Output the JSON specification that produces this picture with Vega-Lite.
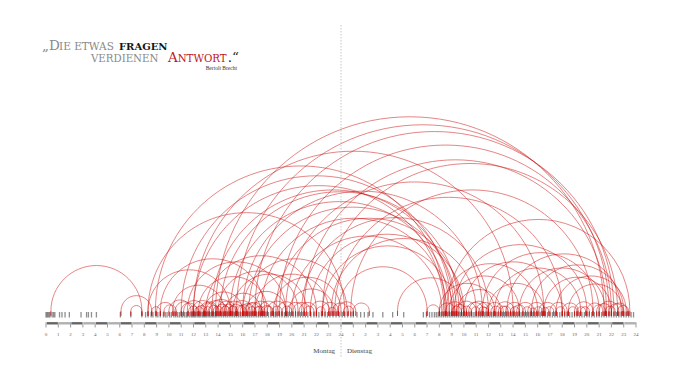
{
  "$schema": "https://vega.github.io/schema/vega-lite/v6.json",
  "width": 590,
  "height": 380,
  "autosize": {"type": "none"},
  "padding": {"left": 46, "right": 44, "top": 0, "bottom": 0},
  "background": "white",
  "config": {"view": {"stroke": null}},
  "datasets": {
    "arcs": [
      {"s": 0.4, "e": 7.8}, {"s": 6.1, "e": 8.6}, {"s": 6.9, "e": 7.8}, {"s": 8.6, "e": 9.3}, {"s": 9.0, "e": 10.4},
      {"s": 9.6, "e": 10.6}, {"s": 10.0, "e": 11.8}, {"s": 10.5, "e": 12.0}, {"s": 11.0, "e": 12.3}, {"s": 11.2, "e": 12.9},
      {"s": 11.6, "e": 12.4}, {"s": 11.9, "e": 13.6}, {"s": 12.2, "e": 13.1}, {"s": 12.5, "e": 14.0}, {"s": 12.8, "e": 13.5},
      {"s": 13.0, "e": 14.7}, {"s": 13.3, "e": 15.2}, {"s": 13.6, "e": 14.4}, {"s": 13.9, "e": 15.5}, {"s": 14.2, "e": 15.0},
      {"s": 14.5, "e": 16.1}, {"s": 14.8, "e": 15.6}, {"s": 15.1, "e": 16.8}, {"s": 15.4, "e": 16.3}, {"s": 15.8, "e": 17.0},
      {"s": 16.1, "e": 17.4}, {"s": 16.4, "e": 17.1}, {"s": 16.7, "e": 18.3}, {"s": 17.0, "e": 17.8}, {"s": 17.3, "e": 18.9},
      {"s": 17.7, "e": 18.5}, {"s": 18.0, "e": 19.6}, {"s": 18.4, "e": 19.2}, {"s": 18.8, "e": 20.3}, {"s": 19.2, "e": 20.0},
      {"s": 19.6, "e": 21.0}, {"s": 20.1, "e": 21.5}, {"s": 20.6, "e": 22.0}, {"s": 21.0, "e": 21.8}, {"s": 21.5, "e": 23.1},
      {"s": 22.0, "e": 22.7}, {"s": 22.4, "e": 23.8}, {"s": 23.0, "e": 23.6}, {"s": 23.3, "e": 24.6}, {"s": 23.7, "e": 25.2},
      {"s": 24.2, "e": 25.0}, {"s": 25.0, "e": 26.3},
      {"s": 12.1, "e": 12.8}, {"s": 12.6, "e": 13.9}, {"s": 13.2, "e": 14.1}, {"s": 13.8, "e": 14.9}, {"s": 14.3, "e": 15.4},
      {"s": 14.9, "e": 16.0}, {"s": 15.6, "e": 16.6}, {"s": 16.2, "e": 17.6}, {"s": 16.9, "e": 17.6}, {"s": 17.5, "e": 18.4},
      {"s": 12.9, "e": 16.0}, {"s": 14.6, "e": 17.5}, {"s": 16.3, "e": 19.5},
      {"s": 8.3, "e": 15.0}, {"s": 9.3, "e": 17.8}, {"s": 10.3, "e": 14.5}, {"s": 11.5, "e": 19.5}, {"s": 12.4, "e": 18.0},
      {"s": 13.0, "e": 22.0}, {"s": 14.0, "e": 20.5}, {"s": 15.2, "e": 21.2}, {"s": 16.0, "e": 24.5}, {"s": 17.0, "e": 23.0},
      {"s": 18.5, "e": 24.0}, {"s": 19.8, "e": 23.4}, {"s": 8.3, "e": 24.3},
      {"s": 8.9, "e": 32.5}, {"s": 11.0, "e": 33.0}, {"s": 12.0, "e": 32.4}, {"s": 13.5, "e": 33.2}, {"s": 14.2, "e": 33.6},
      {"s": 15.0, "e": 32.8}, {"s": 16.5, "e": 33.4}, {"s": 17.5, "e": 32.6}, {"s": 18.7, "e": 33.8}, {"s": 20.0, "e": 32.2},
      {"s": 21.5, "e": 34.0}, {"s": 22.5, "e": 33.1}, {"s": 23.2, "e": 35.0}, {"s": 20.8, "e": 36.0}, {"s": 16.0, "e": 35.5},
      {"s": 13.8, "e": 45.4}, {"s": 15.5, "e": 45.8}, {"s": 17.0, "e": 46.2}, {"s": 19.0, "e": 46.0}, {"s": 21.0, "e": 45.6},
      {"s": 22.5, "e": 46.5}, {"s": 12.0, "e": 38.0}, {"s": 19.5, "e": 40.5}, {"s": 23.5, "e": 42.0}, {"s": 24.8, "e": 44.5},
      {"s": 28.6, "e": 34.0}, {"s": 23.8, "e": 31.0},
      {"s": 31.0, "e": 32.0}, {"s": 32.0, "e": 33.3}, {"s": 32.5, "e": 34.0}, {"s": 33.0, "e": 33.8}, {"s": 33.4, "e": 35.0},
      {"s": 33.8, "e": 34.6}, {"s": 34.2, "e": 35.6}, {"s": 34.6, "e": 35.3}, {"s": 35.0, "e": 36.4}, {"s": 35.4, "e": 36.0},
      {"s": 35.8, "e": 37.2}, {"s": 36.2, "e": 37.0}, {"s": 36.6, "e": 38.1}, {"s": 37.0, "e": 37.8}, {"s": 37.4, "e": 38.8},
      {"s": 37.8, "e": 38.5}, {"s": 38.3, "e": 39.7}, {"s": 38.8, "e": 39.5}, {"s": 39.2, "e": 40.6}, {"s": 39.7, "e": 40.4},
      {"s": 40.1, "e": 41.5}, {"s": 40.6, "e": 41.3}, {"s": 41.0, "e": 42.4}, {"s": 41.5, "e": 42.2}, {"s": 42.0, "e": 43.3},
      {"s": 42.5, "e": 43.2}, {"s": 43.0, "e": 44.5}, {"s": 43.5, "e": 44.2}, {"s": 44.0, "e": 45.3}, {"s": 44.5, "e": 45.5},
      {"s": 45.0, "e": 46.6}, {"s": 45.5, "e": 46.3}, {"s": 46.0, "e": 47.3}, {"s": 46.5, "e": 47.4},
      {"s": 33.1, "e": 34.2}, {"s": 34.4, "e": 36.0}, {"s": 35.2, "e": 35.9}, {"s": 36.8, "e": 37.6}, {"s": 38.0, "e": 39.0},
      {"s": 39.4, "e": 39.9}, {"s": 40.3, "e": 40.9}, {"s": 43.2, "e": 43.9}, {"s": 44.8, "e": 46.0}, {"s": 45.8, "e": 47.0},
      {"s": 32.3, "e": 40.0}, {"s": 32.8, "e": 38.5}, {"s": 33.2, "e": 44.0}, {"s": 34.0, "e": 42.0}, {"s": 35.5, "e": 45.0},
      {"s": 36.5, "e": 43.5}, {"s": 37.5, "e": 46.8}, {"s": 38.5, "e": 45.5}, {"s": 39.5, "e": 47.0}, {"s": 40.5, "e": 46.0},
      {"s": 41.5, "e": 47.2}, {"s": 33.5, "e": 37.0}, {"s": 32.0, "e": 36.5}, {"s": 36.0, "e": 40.5}, {"s": 42.5, "e": 46.9},
      {"s": 32.6, "e": 47.5}
    ],
    "events": [0.0, 0.08, 0.16, 0.25, 0.33, 0.5, 0.62, 0.72, 1.1, 1.3, 1.55, 1.9, 2.85, 3.3, 3.45, 3.7, 4.1, 6.05, 6.9, 7.8,
      8.1, 8.3, 8.55, 8.7, 8.95, 9.1, 9.3, 9.55, 9.7, 9.85, 10.05, 10.2, 10.4, 10.55, 10.7, 10.85, 11.0, 11.1, 11.25, 11.4,
      11.5, 11.65, 11.8, 11.9, 12.0, 12.1, 12.2, 12.35, 12.45, 12.55, 12.7, 12.8, 12.9, 13.0, 13.1, 13.25, 13.35, 13.5, 13.6, 13.75,
      13.85, 14.0, 14.15, 14.3, 14.45, 14.6, 14.75, 14.9, 15.05, 15.2, 15.35, 15.5, 15.65, 15.8, 15.95, 16.1, 16.25, 16.4, 16.55, 16.7,
      16.85, 17.0, 17.15, 17.3, 17.45, 17.6, 17.75, 17.9, 18.1, 18.3, 18.5, 18.65, 18.8, 19.0, 19.2, 19.4, 19.55, 19.7, 19.9, 20.1,
      20.3, 20.5, 20.7, 20.9, 21.1, 21.3, 21.55, 21.8, 22.0, 22.2, 22.45, 22.7, 22.9, 23.1, 23.35, 23.6, 23.85,
      24.1, 24.3, 24.55, 24.8, 25.0, 25.3, 25.6, 25.9, 26.2, 26.6, 27.4, 28.2, 29.1, 30.7, 30.95, 31.2, 31.4, 31.6, 31.75, 31.9,
      32.05, 32.2, 32.35, 32.5, 32.65, 32.8, 32.95, 33.1, 33.25, 33.4, 33.55, 33.7, 33.85, 34.0, 34.15, 34.3, 34.45, 34.6, 34.75, 34.9,
      35.05, 35.2, 35.35, 35.5, 35.65, 35.8, 35.95, 36.1, 36.25, 36.4, 36.55, 36.7, 36.85, 37.0, 37.15, 37.3, 37.45, 37.6, 37.75, 37.9,
      38.05, 38.2, 38.35, 38.5, 38.65, 38.8, 38.95, 39.1, 39.25, 39.4, 39.55, 39.7, 39.85, 40.0, 40.2, 40.4, 40.6, 40.8, 41.0, 41.2,
      41.4, 41.6, 41.8, 42.0, 42.2, 42.4, 42.6, 42.8, 43.0, 43.2, 43.4, 43.6, 43.8, 44.0, 44.2, 44.4, 44.6, 44.8, 45.0, 45.2,
      45.4, 45.6, 45.8, 46.0, 46.2, 46.4, 46.6, 46.8, 47.0, 47.2, 47.4, 47.6, 47.8],
    "hours": [0, 1, 2, 3, 4, 5, 6, 7, 8, 9, 10, 11, 12, 13, 14, 15, 16, 17, 18, 19, 20, 21, 22, 23,
      24, 25, 26, 27, 28, 29, 30, 31, 32, 33, 34, 35, 36, 37, 38, 39, 40, 41, 42, 43, 44, 45, 46, 47, 48],
    "one": [{}]
  },
  "layer": [
    {
      "data": {"name": "hours"},
      "transform": [{"filter": "datum.data < 48"}, {"calculate": "datum.data + 0.06", "as": "h1"}, {"calculate": "datum.data + 0.97", "as": "h2"}],
      "mark": {"type": "rule", "strokeWidth": 2.4},
      "encoding": {
        "x": {"field": "h1", "type": "quantitative", "scale": {"domain": [0, 48], "nice": false, "zero": false}, "axis": null},
        "x2": {"field": "h2"},
        "y": {"datum": -1.0, "type": "quantitative", "scale": {"domain": [-5.614, 25.305], "nice": false, "zero": false}, "axis": null},
        "color": {"condition": {"test": "datum.data % 2 == 0", "value": "#666666"}, "value": "#b0b0b0"}
      }
    },
    {
      "data": {"name": "hours"},
      "mark": {"type": "rule", "strokeWidth": 1, "color": "#999999"},
      "encoding": {
        "x": {"field": "data", "type": "quantitative", "scale": {"domain": [0, 48], "nice": false, "zero": false}, "axis": null},
        "y": {"datum": -0.92, "type": "quantitative", "scale": {"domain": [-5.614, 25.305], "nice": false, "zero": false}, "axis": null},
        "y2": {"datum": -1.34}
      }
    },
    {
      "data": {"name": "hours"},
      "transform": [{"calculate": "datum.data <= 24 ? datum.data : datum.data - 24", "as": "label"}],
      "mark": {"type": "text", "font": "Liberation Serif", "fontSize": 5, "color": "#666666", "baseline": "middle", "align": "center"},
      "encoding": {
        "x": {"field": "data", "type": "quantitative", "scale": {"domain": [0, 48], "nice": false, "zero": false}, "axis": null},
        "y": {"datum": -1.85, "type": "quantitative", "scale": {"domain": [-5.614, 25.305], "nice": false, "zero": false}, "axis": null},
        "text": {"field": "label", "type": "nominal"}
      }
    },
    {
      "data": {"name": "events"},
      "mark": {"type": "rule", "strokeWidth": 1.3, "color": "#222222", "opacity": 0.5},
      "encoding": {
        "x": {"field": "data", "type": "quantitative", "scale": {"domain": [0, 48], "nice": false, "zero": false}, "axis": null},
        "y": {"datum": -0.08, "type": "quantitative", "scale": {"domain": [-5.614, 25.305], "nice": false, "zero": false}, "axis": null},
        "y2": {"datum": -0.53}
      }
    },
    {
      "data": {"name": "arcs"},
      "transform": [{"fold": ["s", "e"], "as": ["end", "t"]}],
      "mark": {"type": "rule", "strokeWidth": 1, "color": "#cc0a0a", "opacity": 0.85},
      "encoding": {
        "x": {"field": "t", "type": "quantitative", "scale": {"domain": [0, 48], "nice": false, "zero": false}, "axis": null},
        "y": {"datum": 0.0, "type": "quantitative", "scale": {"domain": [-5.614, 25.305], "nice": false, "zero": false}, "axis": null},
        "y2": {"datum": -0.4}
      }
    },
    {
      "data": {"name": "arcs"},
      "transform": [{"calculate": "(datum.s + datum.e) / 2", "as": "mid"}, {"calculate": "datum.e - datum.s", "as": "span"}],
      "mark": {"type": "point", "shape": "M-1,0A1,1,0,0,1,1,0", "filled": false, "color": "#cc0a0a", "strokeWidth": 1, "strokeOpacity": 0.7},
      "encoding": {
        "x": {"field": "mid", "type": "quantitative", "scale": {"domain": [0, 48], "nice": false, "zero": false}, "axis": null},
        "y": {"datum": 0, "type": "quantitative", "scale": {"domain": [-5.614, 25.305], "nice": false, "zero": false}, "axis": null},
        "size": {"field": "span", "type": "quantitative", "scale": {"type": "pow", "exponent": 2, "domain": [0, 48], "range": [0, 348100], "zero": true, "nice": false}, "legend": null}
      }
    },
    {
      "data": {"name": "one"},
      "mark": {"type": "rule", "color": "#b0b0b0", "strokeWidth": 0.7, "strokeDash": [1.5, 1.5]},
      "encoding": {
        "x": {"datum": 24, "type": "quantitative", "scale": {"domain": [0, 48], "nice": false, "zero": false}, "axis": null},
        "y": {"datum": 23.27, "type": "quantitative", "scale": {"domain": [-5.614, 25.305], "nice": false, "zero": false}, "axis": null},
        "y2": {"datum": -3.74}
      }
    },
    {
      "data": {"name": "one"},
      "mark": {"type": "text", "font": "Liberation Serif", "fontSize": 7, "color": "#444444", "align": "right", "baseline": "middle", "dx": -6},
      "encoding": {
        "x": {"datum": 24, "type": "quantitative", "scale": {"domain": [0, 48], "nice": false, "zero": false}, "axis": null},
        "y": {"datum": -3.25, "type": "quantitative", "scale": {"domain": [-5.614, 25.305], "nice": false, "zero": false}, "axis": null},
        "text": {"value": "Montag"}
      }
    },
    {
      "data": {"name": "one"},
      "mark": {"type": "text", "font": "Liberation Serif", "fontSize": 7, "color": "#444444", "align": "left", "baseline": "middle", "dx": 6},
      "encoding": {
        "x": {"datum": 24, "type": "quantitative", "scale": {"domain": [0, 48], "nice": false, "zero": false}, "axis": null},
        "y": {"datum": -3.25, "type": "quantitative", "scale": {"domain": [-5.614, 25.305], "nice": false, "zero": false}, "axis": null},
        "text": {"value": "Dienstag"}
      }
    },
    {
      "data": {"name": "one"},
      "mark": {"type": "text", "font": "DejaVu Serif", "fontSize": 13.5, "color": "#8a8a8a", "align": "left", "baseline": "alphabetic"},
      "encoding": {
        "x": {"datum": -0.325, "type": "quantitative", "scale": {"domain": [0, 48], "nice": false, "zero": false}, "axis": null},
        "y": {"datum": 21.24, "type": "quantitative", "scale": {"domain": [-5.614, 25.305], "nice": false, "zero": false}, "axis": null},
        "text": {"value": "„D"}
      }
    },
    {
      "data": {"name": "one"},
      "mark": {"type": "text", "font": "DejaVu Serif", "fontSize": 10.5, "color": "#8a8a8a", "align": "left", "baseline": "alphabetic"},
      "encoding": {
        "x": {"datum": 1.058, "type": "quantitative", "scale": {"domain": [0, 48], "nice": false, "zero": false}, "axis": null},
        "y": {"datum": 21.24, "type": "quantitative", "scale": {"domain": [-5.614, 25.305], "nice": false, "zero": false}, "axis": null},
        "text": {"value": "IE ETWAS"}
      }
    },
    {
      "data": {"name": "one"},
      "mark": {"type": "text", "font": "DejaVu Serif", "fontSize": 10, "fontWeight": "bold", "color": "#151515", "align": "left", "baseline": "alphabetic"},
      "encoding": {
        "x": {"datum": 5.94, "type": "quantitative", "scale": {"domain": [0, 48], "nice": false, "zero": false}, "axis": null},
        "y": {"datum": 21.24, "type": "quantitative", "scale": {"domain": [-5.614, 25.305], "nice": false, "zero": false}, "axis": null},
        "text": {"value": "FRAGEN"}
      }
    },
    {
      "data": {"name": "one"},
      "mark": {"type": "text", "font": "DejaVu Serif", "fontSize": 10.2, "color": "#8a8a8a", "align": "left", "baseline": "alphabetic"},
      "encoding": {
        "x": {"datum": 3.661, "type": "quantitative", "scale": {"domain": [0, 48], "nice": false, "zero": false}, "axis": null},
        "y": {"datum": 20.22, "type": "quantitative", "scale": {"domain": [-5.614, 25.305], "nice": false, "zero": false}, "axis": null},
        "text": {"value": "VERDIENEN"}
      }
    },
    {
      "data": {"name": "one"},
      "mark": {"type": "text", "font": "DejaVu Serif", "fontSize": 13.5, "color": "#c0141c", "align": "left", "baseline": "alphabetic"},
      "encoding": {
        "x": {"datum": 9.925, "type": "quantitative", "scale": {"domain": [0, 48], "nice": false, "zero": false}, "axis": null},
        "y": {"datum": 20.22, "type": "quantitative", "scale": {"domain": [-5.614, 25.305], "nice": false, "zero": false}, "axis": null},
        "text": {"value": "A"}
      }
    },
    {
      "data": {"name": "one"},
      "mark": {"type": "text", "font": "DejaVu Serif", "fontSize": 10.2, "color": "#c0141c", "align": "left", "baseline": "alphabetic"},
      "encoding": {
        "x": {"datum": 10.715, "type": "quantitative", "scale": {"domain": [0, 48], "nice": false, "zero": false}, "axis": null},
        "y": {"datum": 20.22, "type": "quantitative", "scale": {"domain": [-5.614, 25.305], "nice": false, "zero": false}, "axis": null},
        "text": {"value": "NTWORT"}
      }
    },
    {
      "data": {"name": "one"},
      "mark": {"type": "text", "font": "DejaVu Serif", "fontSize": 13.5, "color": "#151515", "align": "left", "baseline": "alphabetic"},
      "encoding": {
        "x": {"datum": 14.78, "type": "quantitative", "scale": {"domain": [0, 48], "nice": false, "zero": false}, "axis": null},
        "y": {"datum": 20.22, "type": "quantitative", "scale": {"domain": [-5.614, 25.305], "nice": false, "zero": false}, "axis": null},
        "text": {"value": ".“"}
      }
    },
    {
      "data": {"name": "one"},
      "mark": {"type": "text", "font": "Liberation Serif", "fontSize": 5.5, "color": "#333333", "align": "right", "baseline": "alphabetic"},
      "encoding": {
        "x": {"datum": 15.54, "type": "quantitative", "scale": {"domain": [0, 48], "nice": false, "zero": false}, "axis": null},
        "y": {"datum": 19.57, "type": "quantitative", "scale": {"domain": [-5.614, 25.305], "nice": false, "zero": false}, "axis": null},
        "text": {"value": "Bertolt Brecht"}
      }
    }
  ]
}
